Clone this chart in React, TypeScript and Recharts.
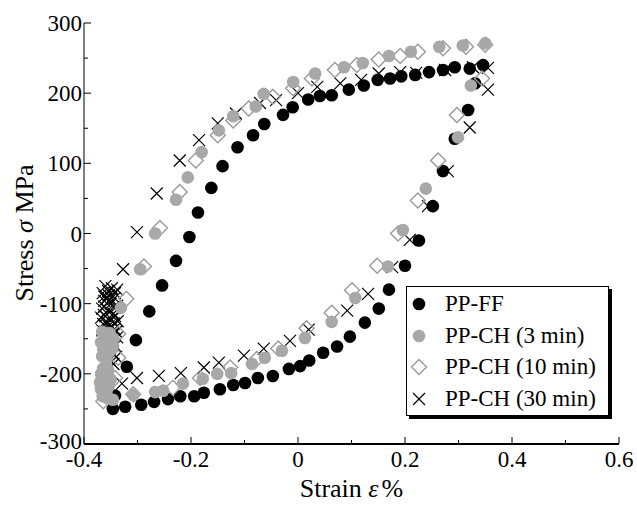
import React from 'react';
import { ScatterChart, Scatter, XAxis, YAxis, Legend } from 'recharts';

type P = { x: number; y: number };
const pt = (a: number[][]): P[] => a.map(([x, y]) => ({ x, y }));

// PP-FF (black circles)
const ppFF = pt([
  [-0.346, -250], [-0.342, -231], [-0.323, -247], [-0.293, -244], [-0.269, -240], [-0.243, -236],
  [-0.220, -232], [-0.194, -232], [-0.176, -227], [-0.146, -222], [-0.121, -216], [-0.099, -213],
  [-0.075, -206], [-0.047, -203], [-0.017, -193], [0.004, -189], [0.021, -181], [0.047, -170],
  [0.073, -161], [0.097, -147], [0.125, -127], [0.151, -107], [0.170, -80], [0.200, -46],
  [0.226, -10], [0.252, 39], [0.271, 89], [0.293, 135], [0.318, 176], [0.331, 214], [0.346, 240],
  [0.321, 235], [0.293, 237], [0.271, 233], [0.245, 230], [0.219, 226], [0.193, 224], [0.172, 221],
  [0.149, 219], [0.123, 211], [0.095, 205], [0.063, 197], [0.041, 196], [0.019, 191], [-0.010, 180],
  [-0.028, 169], [-0.063, 156], [-0.084, 140], [-0.113, 123], [-0.141, 96], [-0.162, 65],
  [-0.187, 30], [-0.203, -5], [-0.228, -39], [-0.254, -74], [-0.278, -111], [-0.303, -152],
  [-0.320, -190],
]);

// PP-CH (3 min) (grey circles)
const ppCH3 = pt([
  [0.350, 271], [0.308, 268], [0.264, 266], [0.211, 259], [0.170, 253], [0.121, 243], [0.086, 237],
  [0.032, 228], [-0.009, 216], [-0.064, 199], [-0.079, 181], [-0.121, 167], [-0.148, 147],
  [-0.180, 116], [-0.206, 80], [-0.228, 48], [-0.267, 0], [-0.295, -51], [-0.331, -106],
  [-0.366, -140], [-0.352, -142], [-0.360, -148], [-0.345, -150], [-0.368, -155], [-0.356, -157],
  [-0.346, -160], [-0.364, -165], [-0.352, -168], [-0.366, -175], [-0.358, -180], [-0.364, -192],
  [-0.355, -196], [-0.368, -200], [-0.358, -205], [-0.350, -208], [-0.370, -212], [-0.362, -215],
  [-0.354, -218], [-0.368, -222], [-0.358, -226], [-0.365, -232], [-0.356, -235],
  [-0.346, -237], [-0.308, -230], [-0.267, -226], [-0.252, -224], [-0.215, -214], [-0.178, -207],
  [-0.151, -200], [-0.125, -199], [-0.086, -186], [-0.062, -177], [-0.030, -167], [0.013, -149],
  [0.063, -126], [0.107, -92], [0.168, -47], [0.196, 5], [0.239, 64], [0.299, 137], [0.323, 211],
]);

// PP-CH (10 min) (open diamonds)
const ppCH10 = pt([
  [0.350, 269], [0.314, 266], [0.271, 264], [0.224, 259], [0.191, 253], [0.151, 248], [0.110, 240],
  [0.069, 233], [0.026, 221], [-0.009, 207], [-0.047, 195], [-0.092, 178], [-0.121, 161],
  [-0.150, 140], [-0.191, 104], [-0.221, 59], [-0.258, 8], [-0.288, -47], [-0.321, -93],
  [-0.336, -143], [-0.355, -160], [-0.336, -177], [-0.360, -190], [-0.342, -206], [-0.365, -220],
  [-0.364, -239], [-0.308, -229], [-0.234, -220], [-0.183, -206], [-0.127, -191], [-0.077, -179],
  [-0.037, -164], [0.016, -135], [0.063, -113], [0.101, -81], [0.148, -46], [0.187, 0],
  [0.224, 47], [0.262, 104], [0.297, 169], [0.344, 221],
]);

// PP-CH (30 min) (crosses)
const ppCH30 = pt([
  [0.355, 236], [0.355, 205], [0.327, 237], [0.275, 233], [0.221, 229], [0.191, 230], [0.151, 228],
  [0.118, 219], [0.079, 214], [0.036, 209], [0.000, 200], [-0.041, 190], [-0.071, 186],
  [-0.116, 171], [-0.150, 157], [-0.185, 133], [-0.221, 104], [-0.264, 57], [-0.301, 2],
  [-0.327, -51],
  [-0.360, -75], [-0.348, -78], [-0.338, -80], [-0.355, -82], [-0.365, -85], [-0.354, -88],
  [-0.343, -92], [-0.358, -93], [-0.362, -96], [-0.350, -100], [-0.338, -103], [-0.345, -105],
  [-0.366, -107], [-0.356, -110], [-0.345, -114], [-0.363, -116], [-0.360, -118], [-0.349, -122],
  [-0.337, -125], [-0.357, -126], [-0.364, -129], [-0.354, -132], [-0.343, -136], [-0.366, -138],
  [-0.360, -140], [-0.348, -144], [-0.338, -148], [-0.356, -149], [-0.365, -152], [-0.352, -156],
  [-0.342, -160], [-0.362, -162], [-0.358, -165], [-0.347, -170], [-0.340, -176], [-0.352, -180],
  [-0.345, -186], [-0.352, -95], [-0.342, -118], [-0.362, -104], [-0.350, -134], [-0.344, -128],
  [-0.368, -120], [-0.340, -140], [-0.356, -143], [-0.346, -152], [-0.362, -90], [-0.342, -85],
  [-0.329, -214], [-0.301, -206], [-0.260, -203], [-0.219, -199], [-0.176, -191], [-0.148, -184],
  [-0.101, -174], [-0.064, -164], [-0.015, -153], [0.020, -137], [0.092, -110], [0.131, -86],
  [0.176, -48], [0.209, -9], [0.243, 39], [0.280, 89], [0.321, 151],
]);

const xTicks = [-0.4, -0.3, -0.2, -0.1, 0, 0.1, 0.2, 0.3, 0.4, 0.5, 0.6];
const yTicks = [-300, -250, -200, -150, -100, -50, 0, 50, 100, 150, 200, 250, 300];
const seriesNames = ['PP-FF', 'PP-CH (3 min)', 'PP-CH (10 min)', 'PP-CH (30 min)'];

const FONT = '"Liberation Serif", "Times New Roman", serif';
const GREY = '#a8a8a8';
const DGREY = '#9a9a9a';

const isMajorX = (v: number) => Math.abs(Math.round(v * 10)) % 2 === 0;
const isMajorY = (v: number) => Math.abs(v) % 100 === 0;
const fmtX = (v: number) => (Math.abs(v) < 1e-9 ? '0' : String(Math.round(v * 10) / 10));

const BottomTick = (p: any) => {
  const v = p.payload.value;
  const maj = isMajorX(v);
  return (
    <g>
      <line x1={p.x} x2={p.x} y1={p.y} y2={p.y - (maj ? 7 : 4)} stroke="#000" strokeWidth={1} />
      {maj && (
        <text x={p.x} y={p.y + 23} textAnchor="middle" fontFamily={FONT} fontSize={23} fill="#000">
          {fmtX(v)}
        </text>
      )}
    </g>
  );
};
const TopTick = (p: any) => {
  const maj = isMajorX(p.payload.value);
  return <line x1={p.x} x2={p.x} y1={p.y} y2={p.y + (maj ? 7 : 4)} stroke="#000" strokeWidth={1} />;
};
const LeftTick = (p: any) => {
  const v = p.payload.value;
  const maj = isMajorY(v);
  return (
    <g>
      <line x1={p.x} x2={p.x + (maj ? 7 : 4)} y1={p.y} y2={p.y} stroke="#000" strokeWidth={1} />
      {maj && (
        <text x={p.x - 2} y={v === -300 ? p.y + 5 : p.y + 8} textAnchor="end" fontFamily={FONT} fontSize={23} fill="#000">
          {String(v)}
        </text>
      )}
    </g>
  );
};
const RightTick = (p: any) => {
  const maj = isMajorY(p.payload.value);
  return <line x1={p.x} x2={p.x - (maj ? 7 : 4)} y1={p.y} y2={p.y} stroke="#000" strokeWidth={1} />;
};

const BlackDot = (p: any) => <circle cx={p.cx} cy={p.cy} r={6.3} fill="#000" />;
const GreyDot = (p: any) => <circle cx={p.cx} cy={p.cy} r={6.3} fill={GREY} />;
const Diamond = (p: any) => (
  <path
    d={`M${p.cx},${p.cy - 7.5}L${p.cx + 7.5},${p.cy}L${p.cx},${p.cy + 7.5}L${p.cx - 7.5},${p.cy}Z`}
    fill="none"
    stroke={DGREY}
    strokeWidth={1.4}
  />
);
const Cross = (p: any) => (
  <path
    d={`M${p.cx - 6},${p.cy - 6}L${p.cx + 6},${p.cy + 6}M${p.cx - 6},${p.cy + 6}L${p.cx + 6},${p.cy - 6}`}
    stroke="#000"
    strokeWidth={1.2}
  />
);

const legendMarkers = [
  <circle cx={12} cy={12} r={6.3} fill="#000" />,
  <circle cx={12} cy={12} r={6.3} fill={GREY} />,
  <path d="M12,4.5L19.5,12L12,19.5L4.5,12Z" fill="none" stroke={DGREY} strokeWidth={1.4} />,
  <path d="M6,6L18,18M6,18L18,6" stroke="#000" strokeWidth={1.2} />,
];

const LegendBox = () => (
  <div
    style={{
      width: 201,
      height: 128,
      border: '1px solid #000',
      background: '#fff',
      boxShadow: '3px 3px 0 #000',
      boxSizing: 'content-box',
      position: 'relative',
    }}
  >
    {seriesNames.map((n, i) => (
      <div
        key={n}
        style={{
          position: 'absolute',
          left: 0,
          top: 4 + i * 31.5,
          height: 26,
          display: 'flex',
          alignItems: 'center',
        }}
      >
        <svg width={24} height={24}>
          {legendMarkers[i]}
        </svg>
        <span
          style={{
            fontFamily: FONT,
            fontSize: 23,
            marginLeft: 14,
            lineHeight: '26px',
            whiteSpace: 'nowrap',
            color: '#000',
          }}
        >
          {n}
        </span>
      </div>
    ))}
  </div>
);

const YTitle = () => (
  <text
    x={24}
    y={233}
    transform="rotate(-90 24 233)"
    textAnchor="middle"
    dominantBaseline="central"
    fontFamily={FONT}
    fontSize={26}
    fill="#000"
  >
    Stress <tspan fontStyle="italic">σ</tspan> MPa
  </text>
);
const XTitle = (props: any) => {
  const vb = props.viewBox || {};
  const cx = (vb.x || 84) + (vb.width || 535) / 2;
  return (
    <text x={cx} y={497} textAnchor="middle" fontFamily={FONT} fontSize={26} fill="#000">
      Strain <tspan fontStyle="italic">ε</tspan>
      <tspan dx={3}>%</tspan>
    </text>
  );
};

export default function App() {
  return (
    <div style={{ position: 'absolute', left: 0, top: 0, width: 637, height: 505, background: '#fff' }}>
      <ScatterChart width={637} height={505} margin={{ top: 23, right: 18, bottom: 0, left: 0 }}>
        <XAxis
          xAxisId="b"
          dataKey="x"
          type="number"
          domain={[-0.4, 0.6]}
          ticks={xTicks}
          interval={0}
          allowDataOverflow
          height={61}
          tickSize={0}
          tickMargin={0}
          tickLine={false}
          tick={<BottomTick />}
          axisLine={{ stroke: '#000', strokeWidth: 2 }}
          label={{ content: <XTitle /> }}
        />
        <XAxis
          xAxisId="t"
          orientation="top"
          dataKey="x"
          type="number"
          domain={[-0.4, 0.6]}
          ticks={xTicks}
          interval={0}
          allowDataOverflow
          height={0}
          tickSize={0}
          tickMargin={0}
          tickLine={false}
          tick={<TopTick />}
          axisLine={{ stroke: '#000', strokeWidth: 1 }}
        />
        <YAxis
          yAxisId="l"
          dataKey="y"
          type="number"
          domain={[-300, 300]}
          ticks={yTicks}
          interval={0}
          allowDataOverflow
          width={84}
          tickSize={0}
          tickMargin={0}
          tickLine={false}
          tick={<LeftTick />}
          axisLine={{ stroke: '#000', strokeWidth: 1 }}
          label={{ content: <YTitle /> }}
        />
        <YAxis
          yAxisId="r"
          orientation="right"
          dataKey="y"
          type="number"
          domain={[-300, 300]}
          ticks={yTicks}
          interval={0}
          allowDataOverflow
          width={0}
          tickSize={0}
          tickMargin={0}
          tickLine={false}
          tick={<RightTick />}
          axisLine={{ stroke: '#000', strokeWidth: 2 }}
        />
        <Scatter name="PP-FF" data={ppFF} xAxisId="b" yAxisId="l" shape={BlackDot} isAnimationActive={false} />
        <Scatter name="PP-CH (30 min)" data={ppCH30} xAxisId="b" yAxisId="l" shape={Cross} isAnimationActive={false} />
        <Scatter name="PP-CH (10 min)" data={ppCH10} xAxisId="b" yAxisId="l" shape={Diamond} isAnimationActive={false} />
        <Scatter name="PP-CH (3 min)" data={ppCH3} xAxisId="b" yAxisId="l" shape={GreyDot} isAnimationActive={false} />
        <Scatter data={ppFF} xAxisId="t" yAxisId="r" shape={() => null} isAnimationActive={false} legendType="none" />
        <Legend
          layout="vertical"
          verticalAlign="middle"
          align="center"
          content={<LegendBox />}
          wrapperStyle={{ position: 'absolute', left: 406, top: 286, width: 206, height: 132 }}
        />
      </ScatterChart>
    </div>
  );
}
